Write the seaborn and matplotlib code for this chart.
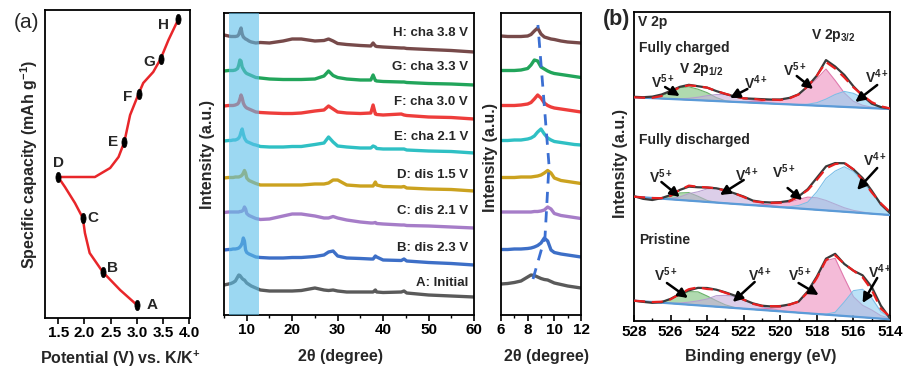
import numpy as np
import pandas as pd
import matplotlib
matplotlib.use("Agg")
import matplotlib.pyplot as plt
import seaborn as sns
from matplotlib.path import Path
from matplotlib.ticker import MultipleLocator

# ---------------- (a) charge / discharge profile ----------------
curve_potential = [3.0, 2.68, 2.35, 2.1, 2.01, 1.97, 1.82, 1.63, 1.5, 2.2, 2.49, 2.65,
                   2.76, 2.87, 3.03, 3.12, 3.31, 3.45, 3.6, 3.79]
curve_capacity = [13, 28, 46, 65, 85, 100, 115, 131, 141, 141, 150, 161,
                  176, 203, 224, 235, 246, 259, 278, 299]
point_labels = ["A", "B", "C", "D", "E", "F", "G", "H"]
point_potential = [3.0, 2.35, 1.97, 1.5, 2.76, 3.03, 3.45, 3.79]
point_capacity = [13, 46, 100, 141, 176, 224, 259, 299]

# ---------------- XRD patterns ----------------
two_theta = [5, 6, 6.5, 7, 7.5, 8, 8.25, 8.5, 8.75, 9, 9.25, 9.5, 9.75, 10, 10.5, 11, 11.5, 12, 13,
             15, 18, 20, 22, 25, 27, 28, 29, 30, 32, 35, 37.3, 37.8, 38.3, 38.6, 40, 44, 44.6, 45.2,
             50, 55, 60]
pattern_names = ["A: Initial", "B: dis 2.3 V", "C: dis 2.1 V", "D: dis 1.5 V",
                 "E: cha 2.1 V", "F: cha 3.0 V", "G: cha 3.3 V", "H: cha 3.8 V"]
pattern_colors = ["#5a5a5a", "#3d6fc7", "#a67dc8", "#cba21f",
                  "#2fc0c4", "#ee3d3b", "#22a55b", "#774a4a"]
pattern_offsets = [18, 50, 87, 124, 162, 196, 230, 263]
xrd_A = [12, 13, 13.5, 14.5, 16, 20, 22, 21.5, 20, 18.5, 17.5, 17, 15.5, 14, 12.5, 11, 10, 9, 7,
         6, 6, 6, 6.5, 9, 7, 6.5, 7, 6, 5, 5, 5, 5, 7, 5, 4.5, 5, 6, 4, 2, 1, 0]
xrd_B = [15, 15.5, 15.5, 16, 16, 16.5, 17, 18, 19.5, 22, 27, 24, 15, 12.5, 11, 10, 9, 8, 7.5,
         7, 7, 7.5, 7.5, 8.5, 10, 13, 14, 9, 7, 6.5, 6, 6, 9, 8, 5, 4.5, 6, 4, 2.5, 1.5, 0]
xrd_C = [15.5, 16, 16, 16, 16, 16, 16, 16.5, 16.5, 17, 18, 21, 19, 14.5, 12.5, 11.5, 10.5, 9.5, 8.5,
         9, 12, 14, 14, 12, 10, 10, 11.5, 10, 8, 6, 5, 5, 5.5, 4.5, 4, 3, 3, 2.5, 2, 1, 0]
xrd_D = [13, 13.5, 13.5, 13.5, 14, 14, 14, 14.5, 15, 16, 18, 20.5, 18, 13, 10.5, 9.5, 8.5, 7.5, 6,
         6, 6, 6, 6, 7, 7, 8, 11, 11, 6, 5, 5, 5, 9, 6, 4.5, 4, 4.5, 3, 2, 1.5, 0]
xrd_E = [12, 12.5, 12.5, 13, 13, 14, 15, 17, 21, 24, 19, 15, 13, 11.5, 10.5, 9.5, 8.5, 8, 6.5,
         6, 6, 6.5, 6.5, 8.5, 10, 16, 11, 7, 6, 5, 5, 7, 6, 4.5, 4, 4, 4, 3, 2, 1.5, 0]
xrd_F = [13, 13.5, 13.5, 13.5, 14, 15, 16.5, 20, 24, 21, 16, 13.5, 12, 11, 10, 9, 8, 7, 6.5,
         6, 5.5, 5.5, 6, 8, 9, 13, 10, 7, 6, 5.5, 6, 14, 5, 4.5, 4, 5, 4, 3.5, 2, 1.5, 0]
xrd_G = [14, 14.5, 14.5, 14.5, 15, 16.5, 20, 25, 24, 18, 16, 14, 12.5, 11.5, 10.5, 9.5, 8.5, 7.5, 7,
         6, 5.5, 5.5, 5.5, 6, 9, 14, 9.5, 7.5, 6, 5, 5, 10, 4.5, 4, 3.5, 3, 3, 2.5, 1.5, 1, 0]
xrd_H = [17, 16, 15.5, 15.5, 15.5, 16, 17.5, 21, 24, 18, 15, 14, 13, 12.5, 11, 10, 9.5, 9, 9.5,
         9, 11, 13, 13, 11, 11.5, 13, 11, 8.5, 7.5, 6.5, 6, 9, 6, 5.5, 5, 4, 4, 3.5, 2.5, 1.5, 0]
shift_theta = [8.4, 9.3, 9.6, 8.77]
shift_level = [36, 78, 150, 290]

# ---------------- XPS V 2p ----------------
xps_energy = [528, 527.5, 527, 526.5, 526, 525.5, 525, 524.5, 524, 523.5, 523, 522.5, 522, 521.5,
              521, 520.5, 520, 519.5, 519, 518.5, 518, 517.5, 517, 516.5, 516, 515.5, 515, 514.5, 514]
spectrum_names = ["Fully charged", "Fully discharged", "Pristine"]
baseline_528 = [223.7, 124.3, 20.3]
baseline_514 = [212.0, 106.0, 1.7]
raw_charged = [0.5, 0.5, 1.5, 4, 8, 12.5, 15, 14, 13, 10, 7.5, 5.5, 4, 4, 4, 4, 4.5, 6.5, 10.5, 19,
               30, 46, 40, 32, 21, 12, 4.5, 1.5, 0.5]
raw_discharged = [0.5, -1.5, -2, 0.5, 4.3, 10, 14, 14, 14.4, 14.3, 13, 10.5, 8, 4.6, 3.8, 4, 5, 7,
                  12, 20, 32, 44, 48, 48.5, 43, 35, 23, 10, 2]
raw_pristine = [0, -0.5, -0.8, 0.5, 4.5, 10, 14.3, 17.5, 18, 17, 15, 12.5, 9, 6, 4.3, 4.2, 5.3,
                7.5, 11, 22, 37.5, 56, 61.5, 52, 46, 42, 31, 13, 1]
# fitted components (height above background)
v5_12_charged = [0, 0, 0.3, 2.5, 7, 11.5, 13, 11, 8, 3.5, 0.7, 0, 0, 0, 0, 0, 0, 0, 0, 0,
                 0, 0, 0, 0, 0, 0, 0, 0, 0]
v4_12_charged = [0, 0, 0, 0, 0, 0.5, 1.5, 3, 5, 6.5, 7, 5.5, 4, 2.5, 1.2, 0.5, 0, 0, 0, 0,
                 0, 0, 0, 0, 0, 0, 0, 0, 0]
v5_32_charged = [0, 0, 0, 0, 0, 0, 0, 0, 0, 0, 0, 0, 0, 1.5, 2, 3.5, 4, 6, 10, 18,
                 27, 37, 26, 14, 6, 2.5, 1, 0.3, 0]
v4_32_charged = [0, 0, 0, 0, 0, 0, 0, 0, 0, 0, 0, 0, 0, 0, 0, 0, 0, 0, 0.3, 1,
                 3, 7, 12, 15.5, 14, 10, 5, 2, 0.5]
v5_12_discharged = [0, 0, 0, 0.5, 2.5, 7, 8, 5, 1.5, 0.3, 0, 0, 0, 0, 0, 0, 0, 0, 0, 0,
                    0, 0, 0, 0, 0, 0, 0, 0, 0]
v4_12_discharged = [0, 0, 0, 0, 1, 3, 7, 9.5, 13, 14, 12.5, 10.5, 7.5, 4, 2.5, 1.2, 0.5, 0, 0, 0,
                    0, 0, 0, 0, 0, 0, 0, 0, 0]
v5_32_discharged = [0, 0, 0, 0, 0, 0, 0, 0, 0, 0, 0, 0, 0, 0, 1, 2.5, 4, 5.5, 9, 12,
                    12, 10, 7, 4, 2, 1, 0.3, 0, 0]
v4_32_discharged = [0, 0, 0, 0, 0, 0, 0, 0, 0, 0, 0, 0, 0, 0, 0, 0, 0, 1, 3, 7,
                    18, 32, 40, 45, 41, 32, 21, 11, 3]
v5_12_pristine = [0, 0, 0, 1, 4, 9, 13, 13.5, 10, 6, 2.5, 0.5, 0, 0, 0, 0, 0, 0, 0, 0,
                  0, 0, 0, 0, 0, 0, 0, 0, 0]
v4_12_pristine = [0, 0, 0, 0, 0, 1, 2.5, 4.5, 7, 11, 12, 11.5, 9, 5.5, 3, 2, 1, 0.3, 0, 0,
                  0, 0, 0, 0, 0, 0, 0, 0, 0]
v5_32_pristine = [0, 0, 0, 0, 0, 0, 0, 0, 0, 0, 0, 0, 0, 0, 1, 2.5, 4, 7, 11, 21,
                  36, 54, 57, 38, 20, 12, 8, 3, 1]
v4_32_pristine = [0, 0, 0, 0, 0, 0, 0, 0, 0, 0, 0, 0, 0, 0, 0, 0, 0, 0, 0, 0,
                  0, 0.5, 3, 14, 26, 28, 20, 7, 1.5]

# ---------------- style ----------------
sns.set_style("ticks")
plt.rcParams["font.family"] = ["Liberation Sans", "DejaVu Sans"]
plt.rcParams["font.weight"] = "bold"
plt.rcParams["axes.labelweight"] = "bold"
plt.rcParams["mathtext.default"] = "regular"
plt.rcParams["axes.linewidth"] = 1.3
plt.rcParams["axes.edgecolor"] = "black"
plt.rcParams["xtick.color"] = "black"
plt.rcParams["ytick.color"] = "black"

W, H = 920, 378
fig = plt.figure(figsize=(W / 100, H / 100), dpi=100)


def box(l, t, r, b):
    return [l / W, 1 - b / H, (r - l) / W, (b - t) / H]


ax1 = fig.add_axes(box(45, 10, 190, 318))
ax2 = fig.add_axes(box(224, 13, 474, 315))
ax3 = fig.add_axes(box(501, 13, 581, 315))
ax4 = fig.add_axes(box(634, 12, 890, 321))
for ax in (ax1, ax2, ax3, ax4):
    for s in ax.spines.values():
        s.set_visible(True)
        s.set_linewidth(1.3)

# ---------------- panel (a) ----------------
sns.lineplot(x=curve_potential, y=curve_capacity, sort=False, estimator=None,
             color="#e8262a", lw=1.8, ax=ax1)
circ = Path.unit_circle()
ellipse_marker = Path(circ.vertices * np.array([0.5, 1.0]), circ.codes)
sns.scatterplot(x=point_potential, y=point_capacity, marker=ellipse_marker, s=55,
                color="black", edgecolor="black", linewidth=0.5, zorder=5, ax=ax1)
label_offsets = [(15, 0), (10, 4), (10, 0), (0, 14), (-11, 0), (-11, -3), (-11, -3), (-15, -6)]
for lab, px, py, off in zip(point_labels, point_potential, point_capacity, label_offsets):
    ax1.annotate(lab, (px, py), xytext=off, textcoords="offset pixels",
                 ha="center", va="center", fontsize=11, fontweight="bold")
ax1.set_xlim(1.25, 4.01)
ax1.set_ylim(0, 308)
ax1.set_xticks([1.5, 2.0, 2.5, 3.0, 3.5, 4.0])
ax1.set_yticks([])
ax1.tick_params(axis="x", direction="out", length=4, width=1.2, labelsize=11, pad=2)
ax1.set_xlabel("Potential (V) vs. K/K$^{+}$", fontsize=11.5)
ax1.set_ylabel("Specific capacity (mAh g$^{-1}$)", fontsize=11.5)
ax1.xaxis.set_label_coords(0.52, -0.10)
ax1.yaxis.set_label_coords(-0.035, 0.50)
fig.text(14 / W, 1 - 22 / H, "(a)", fontsize=15, fontweight="normal", va="center")

# ---------------- XRD ----------------
series = [xrd_A, xrd_B, xrd_C, xrd_D, xrd_E, xrd_F, xrd_G, xrd_H]
rows = []
for name, off, vals in zip(pattern_names, pattern_offsets, series):
    for t, v in zip(two_theta, vals):
        rows.append((name, t, off + v))
xrd = pd.DataFrame(rows, columns=["pattern", "two_theta", "intensity"])
palette = dict(zip(pattern_names, pattern_colors))

for ax in (ax2, ax3):
    sns.lineplot(data=xrd, x="two_theta", y="intensity", hue="pattern", palette=palette,
                 sort=False, estimator=None, legend=False, lw=2.4, ax=ax)
    ax.set_ylim(0, 302)
    ax.set_yticks([])
    ax.set_ylabel("Intensity (a.u.)", fontsize=11.5)
    ax.set_xlabel("2θ (degree)", fontsize=11.5)
    ax.tick_params(axis="x", which="major", direction="out", length=4, width=1.2,
                   labelsize=11, pad=2)
    ax.tick_params(axis="x", which="minor", direction="out", length=2.5, width=1.0)

ax2.axvspan(6, 12.7, color="#5bbfea", alpha=0.6, lw=0, zorder=3)
ax2.set_xlim(5, 60)
ax2.set_xticks([10, 20, 30, 40, 50, 60])
ax2.xaxis.set_minor_locator(MultipleLocator(5))
ax2.xaxis.set_label_coords(0.467, -0.113)
ax2.yaxis.set_label_coords(-0.036, 0.53)
label_y = [32, 67, 104, 140, 178, 213, 248, 282]
for name, ly in zip(pattern_names, label_y):
    ax2.text(58.7, ly, name, ha="right", va="center", fontsize=9.5, fontweight="bold")

sns.lineplot(x=shift_theta, y=shift_level, sort=False, estimator=None, color="#3b6fd2",
             lw=2.0, dashes=False, ax=ax3, zorder=6)
ax3.lines[-1].set_dashes([4, 3])
ax3.set_xlim(6, 12)
ax3.set_xticks([6, 8, 10, 12])
ax3.xaxis.set_minor_locator(MultipleLocator(1))
ax3.xaxis.set_label_coords(0.57, -0.113)
ax3.yaxis.set_label_coords(-0.04, 0.52)

# ---------------- XPS ----------------
energy = np.array(xps_energy)
raws = [raw_charged, raw_discharged, raw_pristine]
comps = [
    [v5_12_charged, v4_12_charged, v5_32_charged, v4_32_charged],
    [v5_12_discharged, v4_12_discharged, v5_32_discharged, v4_32_discharged],
    [v5_12_pristine, v4_12_pristine, v5_32_pristine, v4_32_pristine],
]
comp_fill = ["#7cc27a", "#c5aedb", "#ee8fbe", "#8fd0f2"]
comp_edge = ["#68b068", "#b79fd0", "#e07aae", "#7cc0e8"]
for i in range(3):
    base = np.interp(energy, [514, 528], [baseline_514[i], baseline_528[i]])
    total = base.copy()
    for c, fc, ec in zip(comps[i], comp_fill, comp_edge):
        c = np.array(c, dtype=float)
        ax4.fill_between(energy, base, base + c, color=fc, alpha=0.6, lw=0, zorder=2)
        ax4.plot(energy, base + c, color=ec, lw=0.8, zorder=2)
        total = total + c
    sns.lineplot(x=energy, y=base, color="#5b9bd8", lw=1.6, ax=ax4, zorder=3)
    sns.lineplot(x=energy, y=base + np.array(raws[i]), color="#3a3a3a", lw=1.6, ax=ax4, zorder=4)
    ax4.plot(energy, total, color="#e82020", lw=1.6, dashes=[5, 3], zorder=5)

ax4.set_xlim(528, 514)
ax4.set_ylim(0, 309)
ax4.set_yticks([])
ax4.set_xticks([528, 526, 524, 522, 520, 518, 516, 514])
ax4.xaxis.set_minor_locator(MultipleLocator(1))
ax4.tick_params(axis="x", which="major", direction="in", length=4, width=1.2,
                labelsize=11, pad=3)
ax4.tick_params(axis="x", which="minor", direction="in", length=2.5, width=1.0)
ax4.set_xlabel("Binding energy (eV)", fontsize=11.5)
ax4.set_ylabel("Intensity (a.u.)", fontsize=11.5)
ax4.xaxis.set_label_coords(0.496, -0.09)
ax4.yaxis.set_label_coords(-0.023, 0.51)

ax4.text(527.8, 299, "V 2p", fontsize=10, fontweight="bold", va="center")
ax4.text(517.1, 286, "V 2p$_{3/2}$", fontsize=10, fontweight="bold", va="center", ha="center")
ax4.text(524.3, 251, "V 2p$_{1/2}$", fontsize=10, fontweight="bold", va="center", ha="center")
for txt, yy in zip(spectrum_names, [273, 181, 81]):
    ax4.text(527.7, yy, txt, fontsize=10, fontweight="bold", va="center")

annots = [
    ("V$^{5+}$", (526.4, 239), (526.3, 234), (525.5, 225)),
    ("V$^{4+}$", (521.3, 238), (521.8, 232), (522.75, 223)),
    ("V$^{5+}$", (519.2, 251), (519.1, 245), (518.2, 232)),
    ("V$^{4+}$", (514.7, 244), (514.7, 236), (515.9, 219)),
    ("V$^{5+}$", (526.5, 144), (526.5, 139), (525.5, 124)),
    ("V$^{4+}$", (521.8, 146), (522.0, 141), (523.3, 126)),
    ("V$^{5+}$", (519.8, 149), (519.6, 133), (518.8, 121)),
    ("V$^{4+}$", (514.8, 161), (514.7, 153), (515.8, 131)),
    ("V$^{5+}$", (526.25, 46), (526.2, 38), (525.05, 23)),
    ("V$^{4+}$", (521.1, 46), (521.4, 39), (522.6, 19)),
    ("V$^{5+}$", (518.9, 46), (519.0, 38), (517.9, 26)),
    ("V$^{4+}$", (514.55, 49), (514.7, 43), (515.5, 18)),
]
for txt, tpos, tail, head in annots:
    ax4.text(tpos[0], tpos[1], txt, fontsize=10, fontweight="bold", ha="center", va="center",
             zorder=7)
    ax4.annotate("", xy=head, xytext=tail,
                 arrowprops=dict(arrowstyle="-|>", color="black", lw=1.8, mutation_scale=14,
                                 shrinkA=0, shrinkB=0), zorder=7)

fig.text(603 / W, 1 - 19 / H, "(b)", fontsize=15.5, fontweight="bold", va="center")

fig.savefig("out.png", dpi=100)
